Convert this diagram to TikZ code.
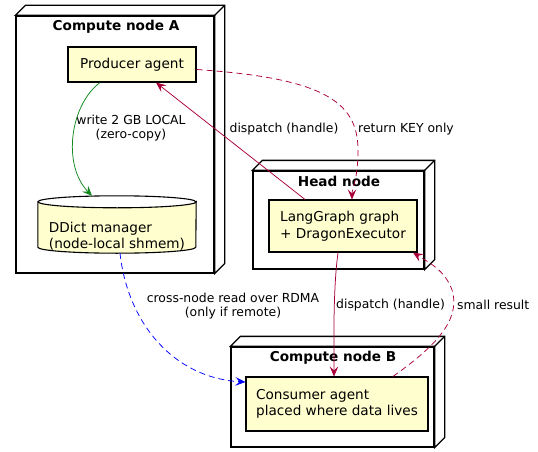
\documentclass[tikz,border=0pt]{standalone}
\usepackage{fontspec}
\setmainfont{DejaVu Sans}
\usetikzlibrary{arrows.meta,calc}
\definecolor{boxfill}{HTML}{FEFECE}
\definecolor{crim}{HTML}{A80036}
\definecolor{grn}{HTML}{11871E}
\begin{document}
\begin{tikzpicture}[x=1pt,y=-1pt,
  nodebox/.style={draw=black,line width=1.3pt,inner sep=0pt,fill=white},
  agentbox/.style={draw=black,line width=1.1pt,fill=boxfill,inner sep=0pt,font=\fontsize{13.6}{16.5}\selectfont,align=left},
  ttl/.style={font=\bfseries\fontsize{13.6}{16}\selectfont},
  lbl/.style={font=\fontsize{12.4}{14.5}\selectfont,align=center,inner sep=0pt},
  tip/.style={-{Stealth[length=10pt,width=8.5pt,inset=4pt]}},
  conn/.style={line width=0.75pt}
]
\useasboundingbox (0,0) rectangle (538,452);
% 3D containers
\newcommand{\threed}[1]{%
  \draw[line width=1.3pt,fill=white,line join=miter] (#1.north west) -- ++(10,-10) -- ($(#1.north east)+(10,-10)$) -- ($(#1.south east)+(10,-10)$) -- (#1.south east) -- (#1.north east) -- cycle;
  \draw[line width=1.3pt] (#1.north east) -- ++(10,-10);}
\node[nodebox,minimum width=198pt,minimum height=257pt] (A) at (115,144.5) {};
\threed{A}
\node[ttl] (At) at (116,27) {Compute node A};
\node[nodebox,minimum width=171pt,minimum height=98pt] (H) at (338.5,220) {};
\threed{H}
\node[ttl] (Ht) at (339,181) {Head node};
\node[nodebox,minimum width=203pt,minimum height=100pt] (B) at (332.5,397) {};
\threed{B}
\node[ttl] (Bt) at (333,358) {Compute node B};
% agents
\node[agentbox,minimum width=128pt,minimum height=35pt,align=center] (prod) at (132,64.5) {Producer agent};
\node[agentbox,minimum width=148pt,minimum height=52pt] (lg) at (343,226) {LangGraph graph\\+ DragonExecutor};
\node[agentbox,minimum width=182pt,minimum height=54pt] (cons) at (337,404) {Consumer agent\\placed where data lives};
% DDict cylinder
\node[minimum width=158pt,minimum height=57pt,inner sep=0pt] (dd) at (117,224.5) {};
\draw[line width=1.1pt,fill=boxfill] ($(dd.north west)+(0,6)$) -- ($(dd.south west)+(0,-6)$) arc[start angle=180,end angle=360,x radius=79,y radius=-6] -- ($(dd.north east)+(0,6)$) arc[start angle=0,end angle=-180,x radius=79,y radius=-6] -- cycle;
\draw[line width=1.1pt] ($(dd.north west)+(0,6)$) arc[start angle=180,end angle=360,x radius=79,y radius=6];
\node[font=\fontsize{13.6}{16.5}\selectfont,align=left,inner sep=0pt] (ddt) at (117,236) {DDict manager\\(node-local shmem)};
% connectors
\draw[conn,grn,tip] ([xshift=-32pt]prod.south) .. controls (70,105) and (62,165) .. ([xshift=-25pt]dd.north);
\node[lbl] (l1) at (131,128) {write 2 GB LOCAL\\(zero-copy)};
\draw[conn,crim,tip] ([xshift=-38pt]lg.north) -- ([xshift=24pt]prod.south);
\node[lbl] (l2) at (284,129) {dispatch (handle)};
\draw[conn,crim,tip,dash pattern=on 6pt off 4pt] ([yshift=-5pt]prod.east) .. controls (320,78) and (358,100) .. (358,150) .. controls (358,180) and (352,188) .. ([xshift=9pt]lg.north);
\node[lbl] (l3) at (406,129) {return KEY only};
\draw[conn,crim,tip] ([xshift=-5pt]lg.south) .. controls (333,290) and (334,340) .. ([xshift=-3pt]cons.north);
\node[lbl,anchor=west] (l4) at (336,305) {dispatch (handle)};
\draw[conn,crim,tip,dash pattern=on 6pt off 4pt] ([xshift=56pt]cons.north) .. controls (430,350) and (462,322) .. (452,290) .. controls (445,270) and (428,262) .. ([xshift=70pt]lg.south);
\node[lbl,anchor=west] (l5) at (457,305) {small result};
\draw[conn,blue,tip,dash pattern=on 6pt off 4pt] ([xshift=3pt]dd.south) .. controls (128,325) and (175,378) .. ([yshift=22pt]cons.west);
\node[lbl] (l6) at (233,306) {cross-node read over RDMA\\(only if remote)};
\end{tikzpicture}
\end{document}
